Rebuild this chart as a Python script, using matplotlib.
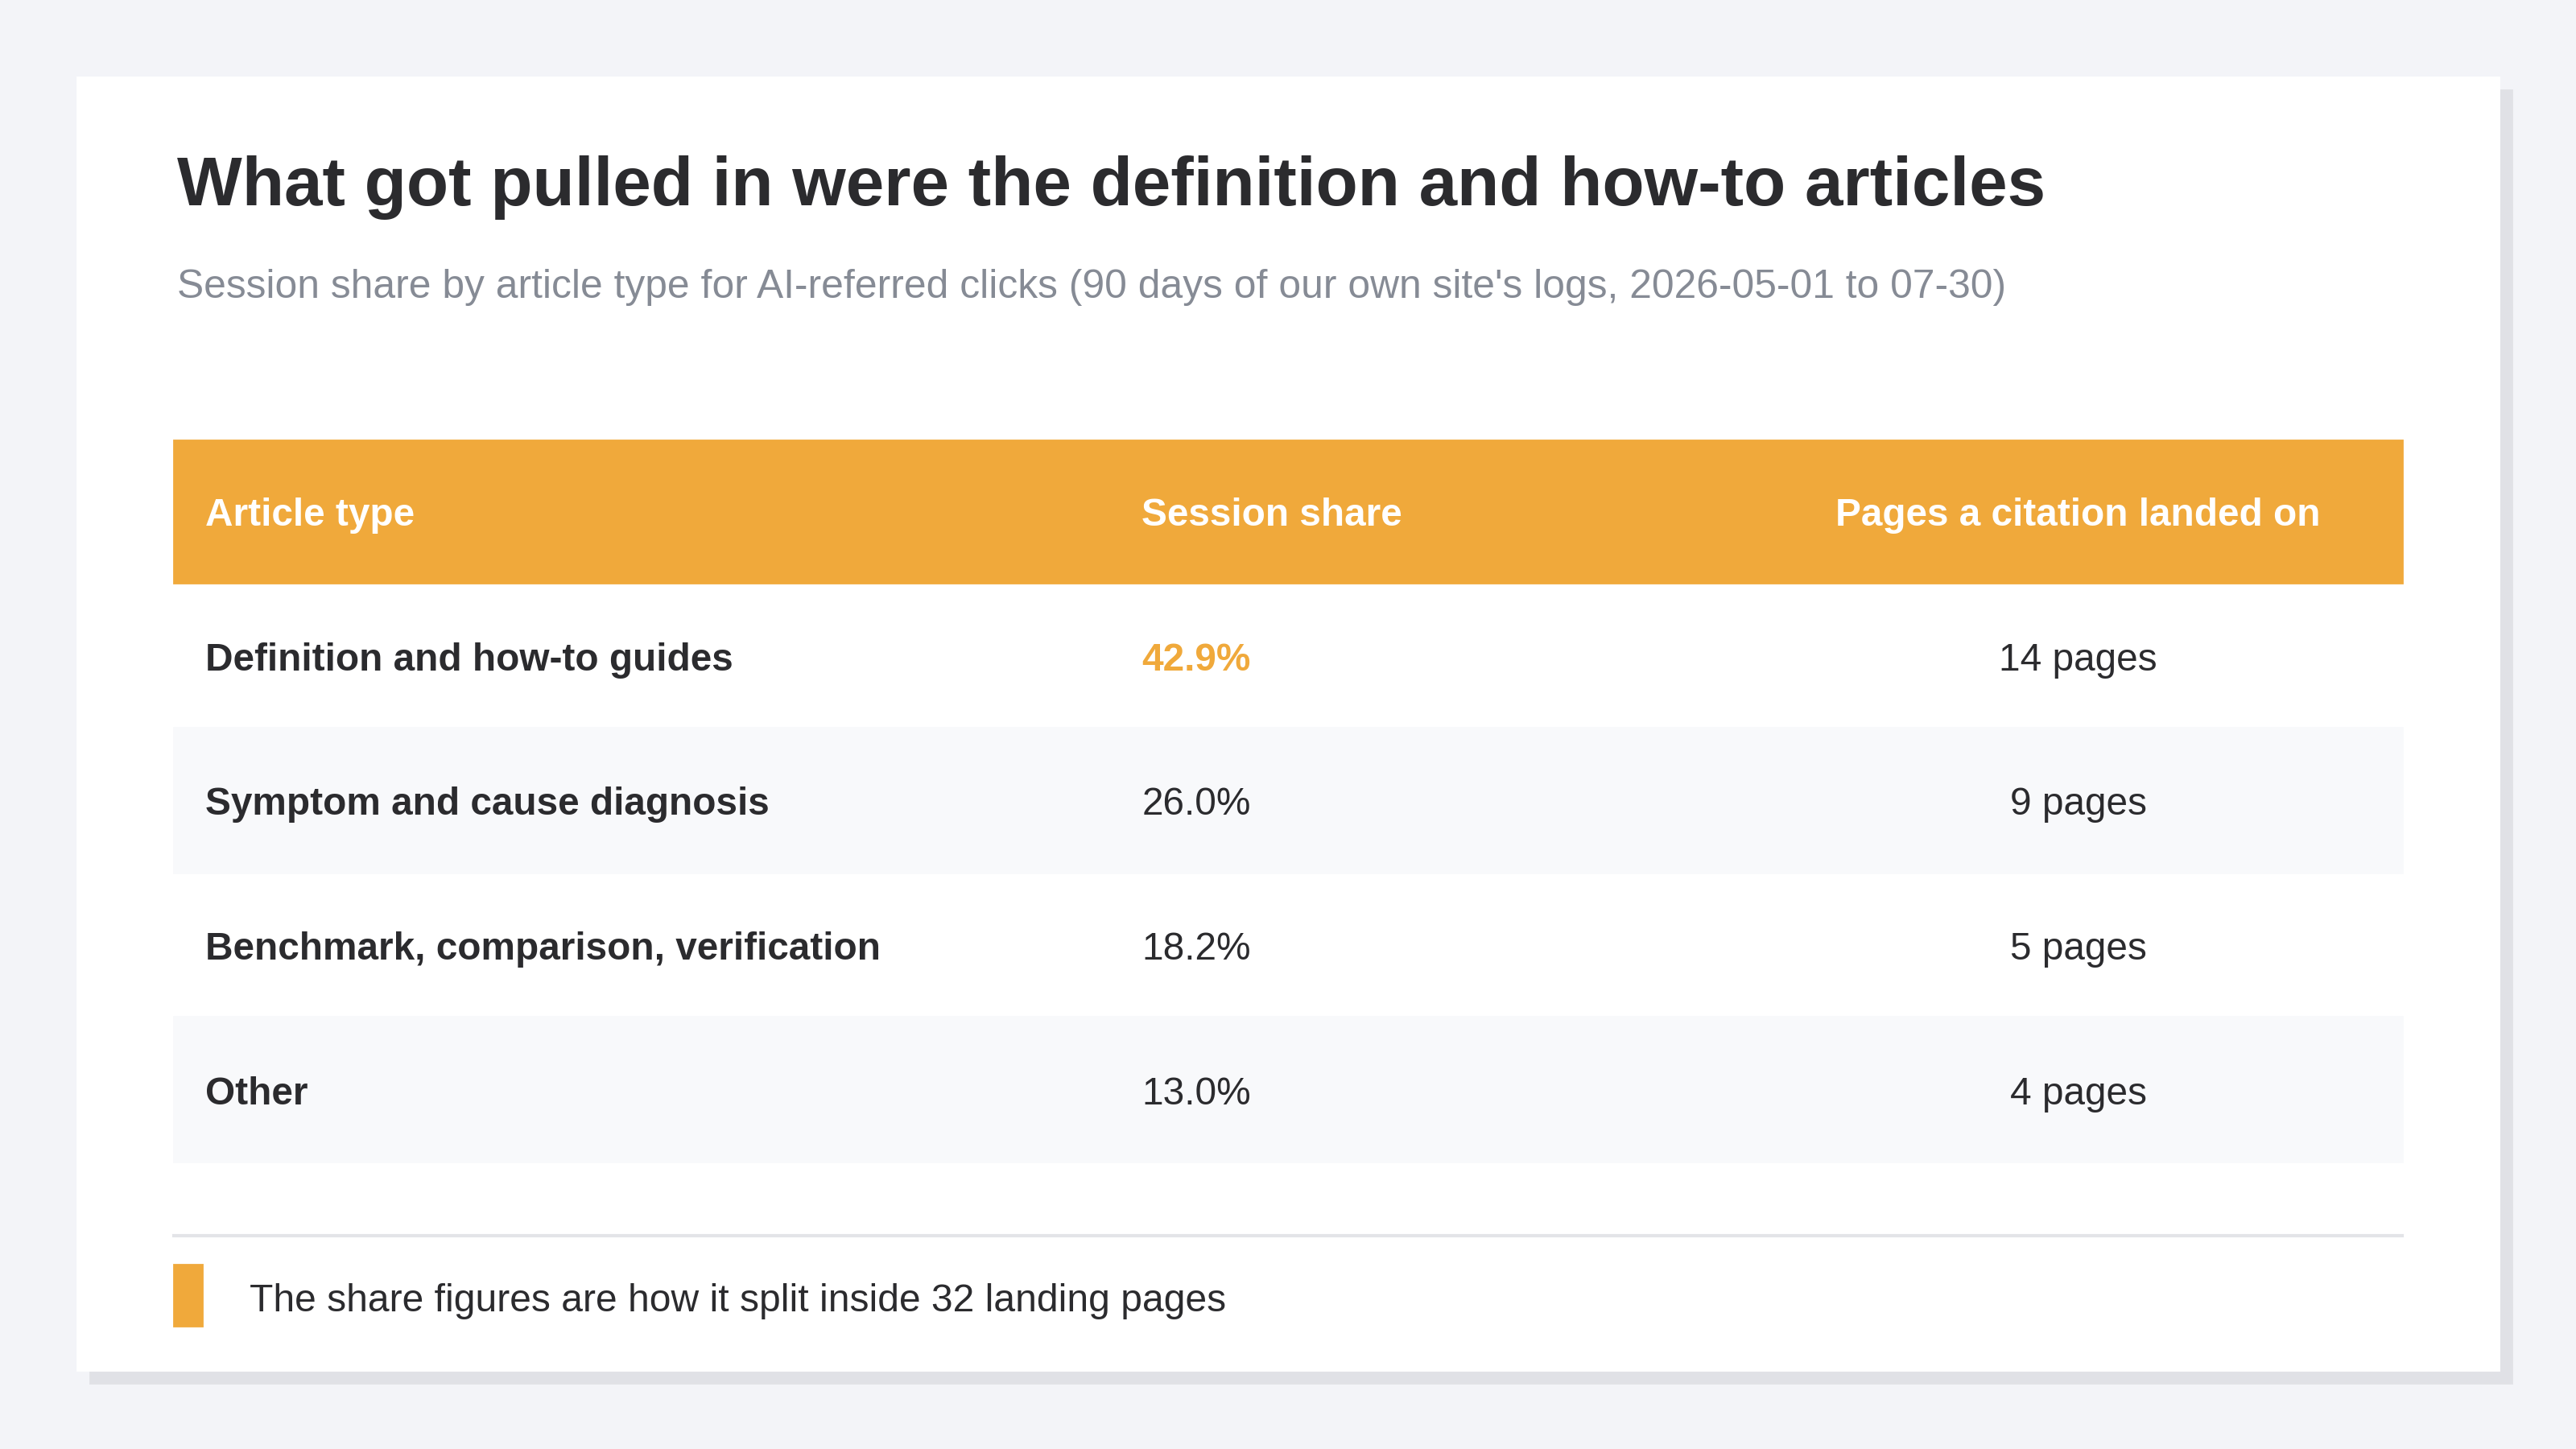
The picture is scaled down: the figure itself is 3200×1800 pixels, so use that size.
import matplotlib.pyplot as plt
from matplotlib.patches import Rectangle

plt.rcParams['font.family'] = ['Liberation Sans', 'DejaVu Sans']

TITLE = "What got pulled in were the definition and how-to articles"
SUBTITLE = ("Session share by article type for AI-referred clicks "
            "(90 days of our own site's logs, 2026-05-01 to 07-30)")
HEADERS = ["Article type", "Session share", "Pages a citation landed on"]
ARTICLE_TYPES = ["Definition and how-to guides", "Symptom and cause diagnosis",
                 "Benchmark, comparison, verification", "Other"]
SHARES = [42.9, 26.0, 18.2, 13.0]
PAGES = [14, 9, 5, 4]
NOTE = "The share figures are how it split inside 32 landing pages"

ORANGE = "#F0A93B"
DARK = "#2B2B2E"
FS = 17.2

fig = plt.figure(figsize=(16, 9), dpi=200)
fig.patch.set_facecolor("#F3F4F8")
ax = fig.add_axes([0, 0, 1, 1])
ax.set_xlim(0, 1568)
ax.set_ylim(882, 0)
ax.axis("off")

# card with shadow
ax.add_patch(Rectangle((55, 55), 1474, 787, color="#E0E1E6", zorder=0))
ax.add_patch(Rectangle((47, 47), 1474, 787, color="white", zorder=1))

ax.text(108, 114, TITLE, fontsize=30.8, fontweight="bold", color=DARK,
        va="center", zorder=3)
ax.text(108, 175, SUBTITLE, fontsize=17.9, color="#868B95", va="center", zorder=3)

# header
ax.add_patch(Rectangle((106, 268), 1356, 87, color=ORANGE, zorder=2))
col_x = [125, 695, 1265]
aligns = ["left", "left", "center"]
for x, h, ha in zip(col_x, HEADERS, aligns):
    ax.text(x, 314, h, fontsize=FS, fontweight="bold", color="white",
            ha=ha, va="center", zorder=3)

row_h = 88
for i, (name, share, pages) in enumerate(zip(ARTICLE_TYPES, SHARES, PAGES)):
    top = 355 + i * row_h
    yc = top + row_h / 2 + 3
    if i % 2 == 1:
        ax.add_patch(Rectangle((106, top), 1356, row_h, color="#F8F9FB", zorder=2))
    ax.text(col_x[0], yc, name, fontsize=FS, fontweight="bold", color=DARK,
            va="center", zorder=3)
    first = i == 0
    ax.text(col_x[1], yc, f"{share:.1f}%", fontsize=FS,
            fontweight="bold" if first else "normal",
            color=ORANGE if first else DARK, va="center", zorder=3)
    ax.text(col_x[2], yc, f"{pages} pages", fontsize=FS, color=DARK,
            ha="center", va="center", zorder=3)

ax.plot([106, 1462], [752, 752], color="#E3E4E8", lw=1.5, zorder=3)
ax.add_patch(Rectangle((106, 770), 17, 37, color=ORANGE, zorder=3))
ax.text(152, 792, NOTE, fontsize=17.3, color=DARK, va="center", zorder=3)

fig.savefig("out.png", dpi=200, facecolor=fig.get_facecolor())
plt.close(fig)
